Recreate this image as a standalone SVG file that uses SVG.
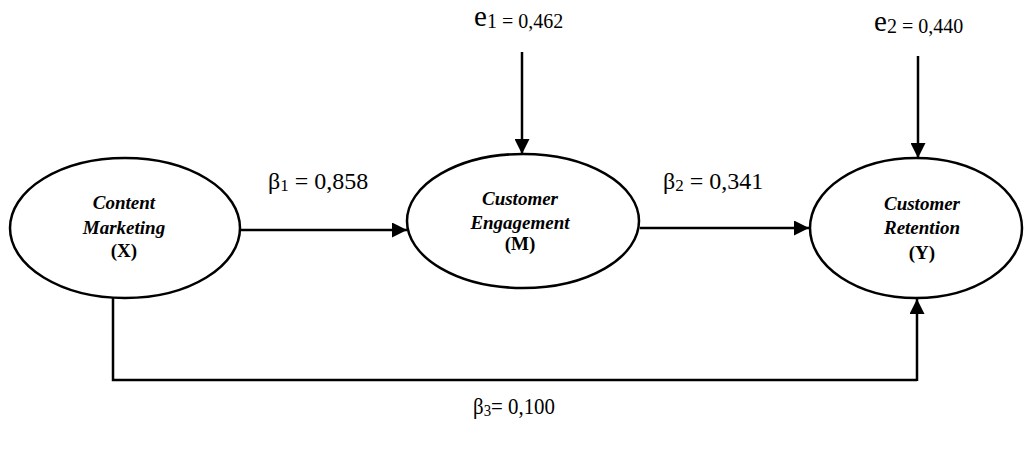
<svg xmlns="http://www.w3.org/2000/svg" width="1027" height="450" viewBox="0 0 1027 450">
<style>
.node ellipse{fill:#fff;stroke:#000;stroke-width:2.5}
.lbl{font-family:"Liberation Serif","Times New Roman",Times,"DejaVu Serif",serif;font-weight:bold;font-style:italic;font-size:19px;text-anchor:middle}
.lbl .up{font-style:normal}
.conn line,.conn polyline{stroke:#000;stroke-width:2.5;fill:none}
.coef{font-family:"Liberation Serif","Times New Roman",Times,"DejaVu Serif",serif;font-size:24px}
.err{font-family:"Liberation Serif","Times New Roman",Times,"DejaVu Serif",serif;font-size:29px}
.sub{font-size:17px}
.sub2{font-size:20px}
</style>
<defs>
<marker id="ah2" viewBox="0 0 10 10" refX="10" refY="5" markerWidth="6" markerHeight="6" orient="auto">
<path d="M0,0 L10,5 L0,10 z" fill="#000"/>
</marker>
</defs>
<g class="conn">
<line x1="240" y1="230" x2="407" y2="230" marker-end="url(#ah2)"/>
<line x1="640" y1="228" x2="809" y2="228" marker-end="url(#ah2)"/>
<line x1="522" y1="52" x2="522" y2="154" marker-end="url(#ah2)"/>
<line x1="918" y1="56" x2="918" y2="158" marker-end="url(#ah2)"/>
<polyline points="113,292 113,380 917,380" stroke-width="1.5"/>
<line x1="917" y1="381" x2="917" y2="299" marker-end="url(#ah2)"/>
</g>
<g id="nodeX" class="node">
<ellipse cx="125" cy="228" rx="115" ry="70"/>
<text class="lbl" x="124" y="209">Content</text>
<text class="lbl" x="124" y="234">Marketing</text>
<text class="lbl" x="124" y="257"><tspan class="up">(X)</tspan></text>
</g>
<g id="nodeM" class="node">
<ellipse cx="523" cy="221" rx="116" ry="67"/>
<text class="lbl" x="520" y="205">Customer</text>
<text class="lbl" x="520" y="229">Engagement</text>
<text class="lbl" x="520" y="250"><tspan class="up">(M)</tspan></text>
</g>
<g id="nodeY" class="node">
<ellipse cx="916" cy="228" rx="106" ry="70"/>
<text class="lbl" x="922" y="210">Customer</text>
<text class="lbl" x="922" y="234">Retention</text>
<text class="lbl" x="922" y="259"><tspan class="up">(Y)</tspan></text>
</g>
<g id="labels">
<text class="coef" x="268" y="189">β<tspan class="sub" dy="2">1</tspan><tspan dy="-2"> = 0,858</tspan></text>
<text class="coef" x="663" y="189">β<tspan class="sub" dy="2">2</tspan><tspan dy="-2"> = 0,341</tspan></text>
<text class="coef" x="473" y="414" textLength="82" lengthAdjust="spacingAndGlyphs">β<tspan class="sub" dy="2">3</tspan><tspan dy="-2">= 0,100</tspan></text>
<text class="err" x="474" y="26">e<tspan class="sub2" dy="2">1 = 0,462</tspan></text>
<text class="err" x="874" y="31">e<tspan class="sub2" dy="2">2 = 0,440</tspan></text>
</g>
</svg>
